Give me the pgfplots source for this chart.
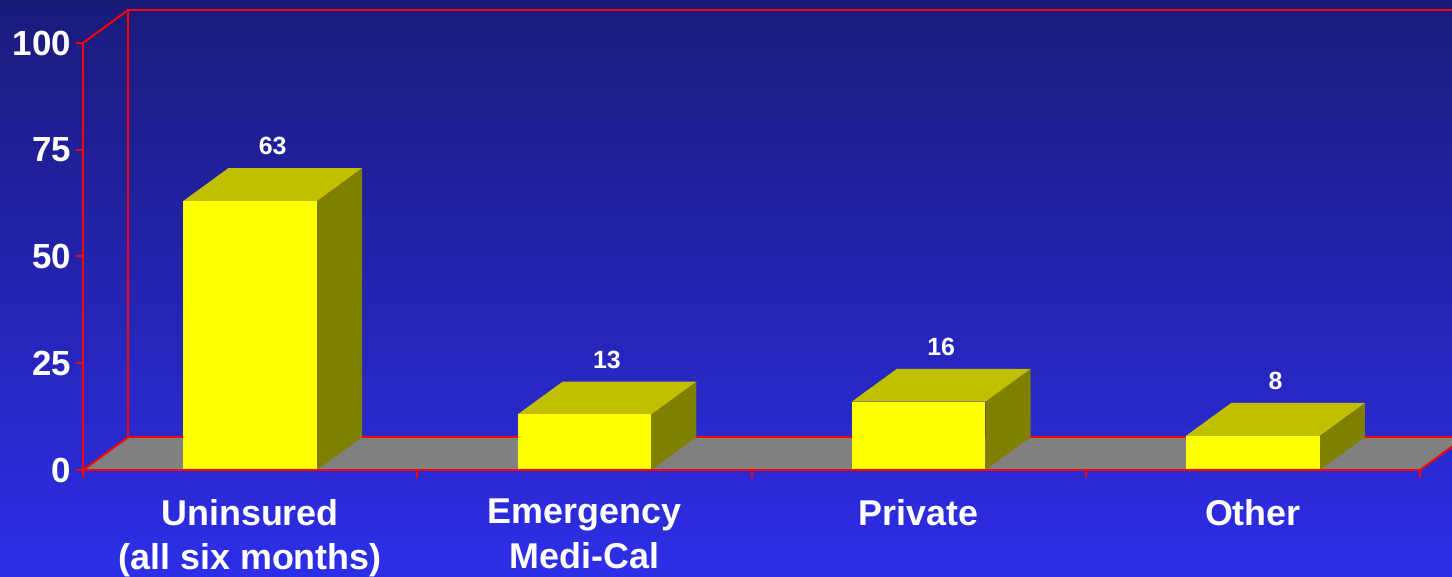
\documentclass[border=0pt]{standalone}
\usepackage{pgfplots}
\pgfplotsset{compat=1.18}
\usepackage{fontspec}
\setmainfont{Liberation Sans}
\definecolor{bgtop}{RGB}{26,26,122}
\definecolor{bgbot}{RGB}{46,46,232}
\definecolor{barfront}{RGB}{255,255,0}
\definecolor{bartop}{RGB}{192,192,0}
\definecolor{barside}{RGB}{128,128,0}
\definecolor{floorgray}{RGB}{128,128,128}
\definecolor{axred}{RGB}{255,0,0}
\begin{document}
\begin{tikzpicture}
% background (1px = 0.5bp), axis box south-west corner is the origin
\fill[top color=bgtop,bottom color=bgbot] (-41.5bp,-53.5bp) rectangle (684.5bp,235bp);
\begin{axis}[
  scale only axis, width=668.5bp, height=213.5bp,
  xmin=0, xmax=4, ymin=0, ymax=100,
  clip=false, axis on top, no markers,
  axis x line=bottom, axis y line=left,
  axis line style={axred, line width=1bp, -},
  ytick={0,25,50,75,100},
  xtick={0.5,1.5,2.5,3.5},
  xticklabels={{Uninsured\\(all six months)},{Emergency\\Medi-Cal},{Private},{Other}},
  minor xtick={0,1,2,3,4},
  tick align=outside,
  major tick length=3.5bp, minor tick length=4bp,
  tick style={axred, line width=1bp},
  major x tick style={draw=none},
  /pgf/number format/assume math mode=true,
  yticklabel style={white, font=\fontsize{17.5}{20}\selectfont\bfseries, xshift=1bp},
  xticklabel style={white, font=\fontsize{18}{22.5}\selectfont\bfseries, align=center, yshift=-7.5bp},
]
% floor
\addplot[fill=floorgray, draw=none] coordinates {(0,0) (4,0) (4.135,7.7) (0.135,7.7)} -- cycle;
% back wall and floor edges
\addplot[axred, line width=1bp] coordinates {(4.135,107.7) (0.135,107.7) (0.135,7.7) (4.135,7.7)};
\addplot[axred, line width=1bp] coordinates {(0,100) (0.135,107.7)};
\addplot[axred, line width=1bp] coordinates {(0,0) (0.135,7.7)};
\addplot[axred, line width=1bp] coordinates {(4,0) (4.135,7.7)};
% bar 1: 63
\addplot[fill=barside, draw=none] coordinates {(0.7,0) (0.835,7.7) (0.835,70.7) (0.7,63)} -- cycle;
\addplot[fill=bartop, draw=none] coordinates {(0.3,63) (0.7,63) (0.835,70.7) (0.435,70.7)} -- cycle;
\addplot[fill=barfront, draw=none] coordinates {(0.3,0) (0.7,0) (0.7,63) (0.3,63)} -- cycle;
% bar 2: 13
\addplot[fill=barside, draw=none] coordinates {(1.7,0) (1.835,7.7) (1.835,20.7) (1.7,13)} -- cycle;
\addplot[fill=bartop, draw=none] coordinates {(1.3,13) (1.7,13) (1.835,20.7) (1.435,20.7)} -- cycle;
\addplot[fill=barfront, draw=none] coordinates {(1.3,0) (1.7,0) (1.7,13) (1.3,13)} -- cycle;
% bar 3: 16
\addplot[fill=barside, draw=none] coordinates {(2.7,0) (2.835,7.7) (2.835,23.7) (2.7,16)} -- cycle;
\addplot[fill=bartop, draw=none] coordinates {(2.3,16) (2.7,16) (2.835,23.7) (2.435,23.7)} -- cycle;
\addplot[fill=barfront, draw=none] coordinates {(2.3,0) (2.7,0) (2.7,16) (2.3,16)} -- cycle;
% bar 4: 8
\addplot[fill=barside, draw=none] coordinates {(3.7,0) (3.835,7.7) (3.835,15.7) (3.7,8)} -- cycle;
\addplot[fill=bartop, draw=none] coordinates {(3.3,8) (3.7,8) (3.835,15.7) (3.435,15.7)} -- cycle;
\addplot[fill=barfront, draw=none] coordinates {(3.3,0) (3.7,0) (3.7,8) (3.3,8)} -- cycle;
% value labels
\addplot[draw=none, nodes near coords, point meta=explicit symbolic,
  nodes near coords style={white, font=\fontsize{12.5}{14}\selectfont\bfseries, anchor=south, yshift=3bp}]
  coordinates {(0.5675,70.7)[63] (1.5675,20.7)[13] (2.5675,23.7)[16] (3.5675,15.7)[8]};
\end{axis}
\pgfresetboundingbox
\path[use as bounding box] (-41.5bp,-53.5bp) rectangle (684.5bp,235bp);
\end{tikzpicture}
\end{document}
